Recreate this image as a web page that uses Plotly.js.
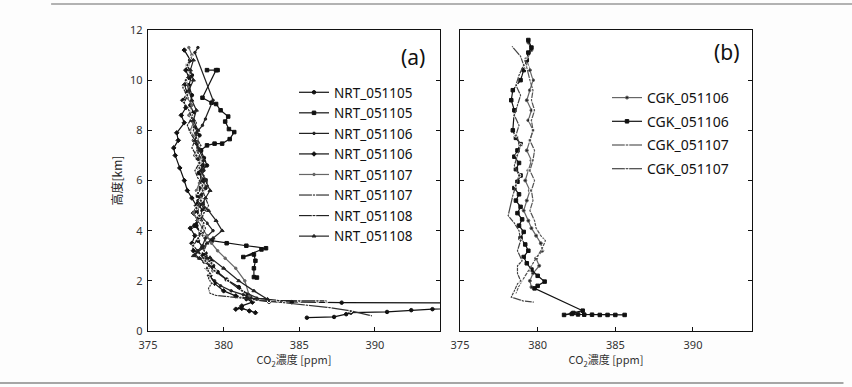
<!DOCTYPE html>
<html>
<head>
<meta charset="utf-8">
<script src="https://cdn.plot.ly/plotly-3.0.1.min.js"></script>
<style>html,body{margin:0;padding:0;background:#fff;}#chart{width:852px;height:387px;}</style>
</head>
<body>
<div id="chart"></div>
<script>
// ---------- Panel (a): NRT profiles (CO2 ppm vs altitude km) ----------
const nrt051105aX = [385.5,387.3,388.1,388.4,390.8,392.4,393.8,399,399,387.8,384.5,383.0,381.9,381.6,381.0,380.2,379.6,379.3,379.0,378.8,378.6,378.3,378.5,378.2,378.4,378.6,378.3,378.5,378.8,378.6,378.4,378.9,378.7,378.5,378.2,378.4,378.1,377.9,378.0,377.8,377.9,377.7,377.9,377.6];
const nrt051105aY = [0.53,0.56,0.67,0.73,0.76,0.83,0.87,0.95,1.12,1.13,1.15,1.17,1.25,1.45,1.75,2.05,2.35,2.6,2.85,3.1,3.35,3.6,3.9,4.2,4.5,4.8,5.1,5.4,5.7,6.0,6.3,6.6,6.9,7.2,7.5,7.8,8.1,8.4,8.7,9.0,9.4,9.8,10.2,10.6];

const nrt051105bX = [379.6,378.9,379.5,378.6,379.2,379.5,379.8,380.3,380.1,380.35,380.7,380.4,379.9,379.4,378.9,378.5,378.3,378.6,378.4,378.8,378.5,378.3,378.6,378.2,378.4,378.1,378.5,379.2,380.2,381.5,382.8,382.5,381.3,382.0,382.1,382.0,382.0,382.2];
const nrt051105bY = [10.4,10.4,10.4,9.3,9.1,9.05,8.8,8.55,8.35,8.05,7.93,7.65,7.47,7.47,7.4,7.2,6.9,6.6,6.3,6.0,5.7,5.4,5.1,4.8,4.5,4.2,3.9,3.6,3.5,3.4,3.3,3.25,2.95,3.05,2.8,2.5,2.15,2.13];

const nrt051106aX = [378.3,378.1,379.3,378.8,378.6,378.2,378.0,378.3,378.1,378.4,378.7,378.5,378.9,378.6,378.3,378.7,378.5,378.9,379.3,378.8,378.6,378.3,378.1,378.4,378.7,379.1,379.3,379.0,379.4,379.8,380.5,381.3,381.8,381.5];
const nrt051106aY = [11.3,11.1,9.2,8.45,8.2,7.9,7.6,7.3,7.0,6.7,6.4,6.1,5.8,5.5,5.2,4.9,4.6,4.3,4.0,3.7,3.4,3.2,3.05,2.9,2.75,2.6,2.4,2.2,2.0,1.8,1.6,1.45,1.35,1.25];

const nrt051106bX = [382.1,381.7,381.2,380.8,381.2,381.9,381.5,380.8,380.0,379.4,379.1,378.9,379.2,378.6,378.0,377.9,378.1,377.8,378.3,378.0,378.2,377.9,377.6,377.4,377.1,376.8,376.7,377.0,376.9,377.4,377.2,377.5,377.3,377.6,377.4,377.7,377.5,377.8,377.4];
const nrt051106bY = [0.73,0.8,0.9,0.87,1.0,1.15,1.3,1.4,1.6,1.9,2.2,2.5,2.8,3.05,3.2,3.5,3.8,4.1,4.4,4.7,5.0,5.3,5.6,6.0,6.5,7.0,7.3,7.6,7.9,8.3,8.6,8.9,9.2,9.5,9.8,10.1,10.4,10.8,11.2];

const nrt051107aX = [377.7,377.9,377.6,377.8,377.5,377.7,377.6,377.9,377.7,378.0,377.8,378.1,378.4,378.2,378.5,378.3,378.6,378.4,378.2,378.5,378.3,378.0,378.3,378.6,378.9,379.2,379.6,380.1,380.8,381.4,381.7];
const nrt051107aY = [11.3,11.0,10.6,10.3,10.0,9.7,9.3,9.0,8.6,8.3,8.0,7.7,7.4,7.1,6.8,6.5,6.2,5.9,5.6,5.3,5.0,4.7,4.4,4.1,3.8,3.5,3.2,2.9,2.5,2.0,1.4];

const nrt051107bX = [389.8,388.4,387.0,385.5,384.0,383.0,382.0,381.1,380.3,379.5,379.1,379.0,379.2,379.0,379.1,378.9,379.2,379.0,378.7,378.9,378.6,378.8,378.5,378.7,379.0,378.8,378.6,378.9,378.7,378.4,378.6,378.3,378.5,378.2,378.0,378.2,377.9];
const nrt051107bY = [0.6,0.8,0.93,1.03,1.12,1.2,1.27,1.32,1.38,1.42,1.5,1.7,1.9,2.1,2.3,2.5,2.7,2.9,3.2,3.5,3.8,4.1,4.4,4.7,5.0,5.3,5.6,5.9,6.2,6.5,6.8,7.1,7.4,7.7,8.0,8.3,8.6];

const nrt051108aX = [377.9,377.6,377.8,377.5,377.3,377.6,377.4,377.7,377.9,377.6,377.8,378.1,377.9,378.2,378.4,378.1,378.3,378.6,378.3,378.5,378.2,378.4,378.7,378.5,378.3,378.0,378.4,378.8,379.4,380.3,381.2,382.3,383.6,385.0,386.2,386.8];
const nrt051108aY = [10.9,10.6,10.3,10.0,9.7,9.4,9.1,8.8,8.5,8.2,7.9,7.6,7.3,7.0,6.7,6.4,6.1,5.8,5.5,5.2,4.9,4.6,4.3,4.0,3.7,3.4,3.1,2.8,2.4,2.0,1.6,1.3,1.22,1.2,1.2,1.2];

const nrt051108bX = [378.0,377.8,378.0,377.7,377.9,378.2,378.0,378.3,378.1,378.4,378.7,378.5,378.8,379.1,378.8,378.6,379.0,379.5,379.9,379.3,378.9,378.6,378.3,378.0,378.4,378.9,379.1,380.0,381.0,382.0,382.9,382.2,381.6];
const nrt051108bY = [10.8,10.4,10.0,9.6,9.2,8.8,8.4,8.0,7.6,7.2,6.8,6.4,6.0,5.6,5.3,5.07,4.8,4.4,4.0,3.7,3.5,3.3,3.15,3.0,2.9,2.9,2.93,2.5,2.0,1.6,1.27,1.3,1.3];

// ---------- Panel (b): CGK profiles ----------
const cgk051106aX = [379.4,379.6,379.3,379.5,379.7,379.5,379.3,379.6,379.4,379.7,379.5,379.3,379.6,379.4,379.2,379.5,379.3,379.1,379.4,379.6,379.9,380.2,380.3,379.9,380.1,379.7,379.5,379.6];
const cgk051106aY = [11.5,11.2,10.8,10.4,10.0,9.6,9.2,8.8,8.4,8.0,7.6,7.2,6.8,6.4,6.0,5.6,5.2,4.8,4.4,4.1,3.8,3.5,3.2,2.9,2.6,2.3,2.0,1.75];

const cgk051106bX = [385.6,385.0,384.5,384.0,383.5,383.0,382.6,382.2,381.7,382.3,382.9,379.8,380.0,380.45,380.0,379.6,379.3,379.1,379.4,379.2,378.9,379.1,378.8,379.0,378.7,378.9,378.6,378.8,378.5,378.7,378.9,378.6,378.8,378.5,378.7,378.9,378.6,378.4,378.5,378.3,378.4,378.9,379.1,379.3,379.4,379.6,379.4];
const cgk051106bY = [0.64,0.64,0.64,0.64,0.65,0.65,0.66,0.68,0.64,0.72,0.81,1.7,1.8,1.97,2.2,2.45,2.7,2.95,3.2,3.45,3.7,3.95,4.2,4.45,4.7,4.95,5.2,5.45,5.7,5.95,6.2,6.45,6.7,6.95,7.2,7.45,7.7,8.0,8.8,9.2,9.6,10.0,10.4,10.8,11.1,11.3,11.6];

const cgk051107aX = [379.2,379.3,379.5,379.7,379.6,379.8,379.6,379.7,379.5,379.8,379.7,379.5,379.8,379.6,379.7,379.5,379.8,379.9,380.2,380.5,380.3,380.0,379.7,379.4,379.1,378.8,378.6];
const cgk051107aY = [10.9,10.5,10.0,9.6,9.2,8.8,8.4,8.0,7.6,7.2,6.8,6.4,6.0,5.6,5.2,4.8,4.4,4.1,3.8,3.6,3.3,3.0,2.7,2.4,2.1,1.8,1.5];

const cgk051107bX = [378.35,378.9,379.1,378.8,378.6,378.9,378.7,378.5,378.8,378.6,378.9,378.7,378.5,378.8,378.6,378.4,378.1,378.5,378.8,378.9,378.7,379.0,378.7,378.7,378.9,378.7,378.5,378.3,379.05,379.75];
const cgk051107bY = [11.35,10.95,10.6,10.2,9.8,9.4,9.0,8.6,8.2,7.8,7.4,7.0,6.6,6.2,5.8,5.4,4.6,4.3,4.0,3.6,3.2,2.8,2.6,2.3,2.0,1.88,1.6,1.35,1.2,1.15];

const xTickVals = [375, 380, 385, 390];
const yTickVals = [0, 2, 4, 6, 8, 10, 12];

const SANS = '"Noto Sans", "Open Sans", sans-serif';
const CJK = '"Noto Sans CJK JP", "Noto Sans", sans-serif';

function tr(name, xs, ys, ax, leg, sym, size, lineColor, mColor, group) {
  const t = {
    type: 'scatter', mode: 'lines+markers', name: name, x: xs, y: ys,
    xaxis: ax === 1 ? 'x' : 'x2', yaxis: ax === 1 ? 'y' : 'y2',
    legend: leg, cliponaxis: true,
    line: {color: lineColor, width: 1.2},
    marker: {symbol: sym, size: size, color: mColor, line: {color: lineColor, width: 1}}
  };
  if (group) t.legendgroup = group;
  return t;
}

const data = [
  tr('NRT_051105', nrt051105aX, nrt051105aY, 1, 'legend', 'circle', 3.5, '#111', '#111'),
  tr('NRT_051105', nrt051105bX, nrt051105bY, 1, 'legend', 'square', 3.5, '#111', '#111'),
  tr('NRT_051106', nrt051106aX, nrt051106aY, 1, 'legend', 'circle', 2.5, '#222', '#222'),
  tr('NRT_051106', nrt051106bX, nrt051106bY, 1, 'legend', 'diamond', 3.5, '#111', '#111'),
  tr('NRT_051107', nrt051107aX, nrt051107aY, 1, 'legend', 'circle', 2.5, '#666', '#666'),
  tr('NRT_051107', nrt051107bX, nrt051107bY, 1, 'legend', 'circle-open', 3.5, '#333', '#fff'),
  tr('NRT_051108', nrt051108aX, nrt051108aY, 1, 'legend', 'circle-open', 3.5, '#222', '#fff'),
  tr('NRT_051108', nrt051108bX, nrt051108bY, 1, 'legend', 'triangle-up', 3.5, '#222', '#222'),
  tr('CGK_051106', cgk051106aX, cgk051106aY, 2, 'legend2', 'circle', 3, '#666', '#222', 'b1'),
  tr('CGK_051106', cgk051106bX, cgk051106bY, 2, 'legend2', 'square', 3.5, '#111', '#111', 'b2'),
  tr('CGK_051107', cgk051107aX, cgk051107aY, 2, 'legend2', 'square-open', 3.5, '#555', '#fff', 'b3'),
  tr('CGK_051107', cgk051107bX, cgk051107bY, 2, 'legend2', 'circle-open', 3.5, '#444', '#fff', 'b4')
];

const axBase = {
  showgrid: false, zeroline: false, showline: true, linecolor: '#111', linewidth: 1.3,
  ticks: 'inside', ticklen: 4, tickcolor: '#111', tickwidth: 1,
  tickfont: {family: SANS, size: 11, color: '#333'}, automargin: false
};
const yDom = [1 - 331 / 387, 1 - 30 / 387];

const layout = {
  width: 852, height: 387, autosize: false,
  margin: {l: 0, r: 0, t: 0, b: 0},
  paper_bgcolor: '#fdfdfd', plot_bgcolor: '#ffffff',
  showlegend: true,
  xaxis: Object.assign({}, axBase, {
    domain: [148 / 852, 440 / 852], range: [375, 394.3], tickvals: xTickVals, ticktext: xTickVals.map(String),
    mirror: true, anchor: 'y', ticklabelstandoff: 3,
    title: {text: 'CO<sub>2</sub>濃度 [ppm]', font: {family: CJK, size: 11, color: '#333'}, standoff: 5}
  }),
  yaxis: Object.assign({}, axBase, {
    domain: yDom, range: [0, 12], tickvals: yTickVals, ticktext: yTickVals.map(String),
    mirror: 'ticks', anchor: 'x', ticklabelstandoff: 2,
    title: {text: '高度[km]', font: {family: CJK, size: 12, color: '#222'}, standoff: 4}
  }),
  xaxis2: Object.assign({}, axBase, {
    domain: [460 / 852, 752 / 852], range: [375, 393.8], tickvals: xTickVals, ticktext: xTickVals.map(String),
    mirror: true, anchor: 'y2', ticklabelstandoff: 3,
    title: {text: 'CO<sub>2</sub>濃度 [ppm]', font: {family: CJK, size: 11, color: '#333'}, standoff: 5}
  }),
  yaxis2: Object.assign({}, axBase, {
    domain: yDom, range: [0, 12], tickvals: yTickVals, showticklabels: false,
    mirror: 'ticks', anchor: 'x2'
  }),
  legend: {
    x: 294 / 852, y: 1 - 77 / 387, xanchor: 'left', yanchor: 'top',
    bgcolor: 'rgba(0,0,0,0)', borderwidth: 0,
    font: {family: SANS, size: 13.5, color: '#111'}, itemwidth: 30
  },
  legend2: {
    x: 607 / 852, y: 1 - 82 / 387, xanchor: 'left', yanchor: 'top',
    bgcolor: 'rgba(0,0,0,0)', borderwidth: 0, traceorder: 'grouped', tracegroupgap: 2.5,
    font: {family: SANS, size: 14, color: '#111'}, itemwidth: 30
  },
  annotations: [
    {text: '(a)', xref: 'paper', yref: 'paper', x: 427 / 852, y: 1 - 57 / 387, xanchor: 'right', yanchor: 'middle',
     showarrow: false, font: {family: SANS, size: 21, color: '#111'}},
    {text: '(b)', xref: 'paper', yref: 'paper', x: 742 / 852, y: 1 - 52 / 387, xanchor: 'right', yanchor: 'middle',
     showarrow: false, font: {family: SANS, size: 21, color: '#111'}}
  ],
  shapes: [
    {type: 'line', xref: 'paper', yref: 'paper', x0: 0.06, x1: 1, y0: 1 - 4 / 387, y1: 1 - 4 / 387, line: {color: '#999', width: 1.5}},
    {type: 'line', xref: 'paper', yref: 'paper', x0: 0, x1: 0.99, y0: 1 - 383 / 387, y1: 1 - 383 / 387, line: {color: '#888', width: 1.5}}
  ]
};

Plotly.newPlot('chart', data, layout, {staticPlot: true, displayModeBar: false});
</script>
</body>
</html>
